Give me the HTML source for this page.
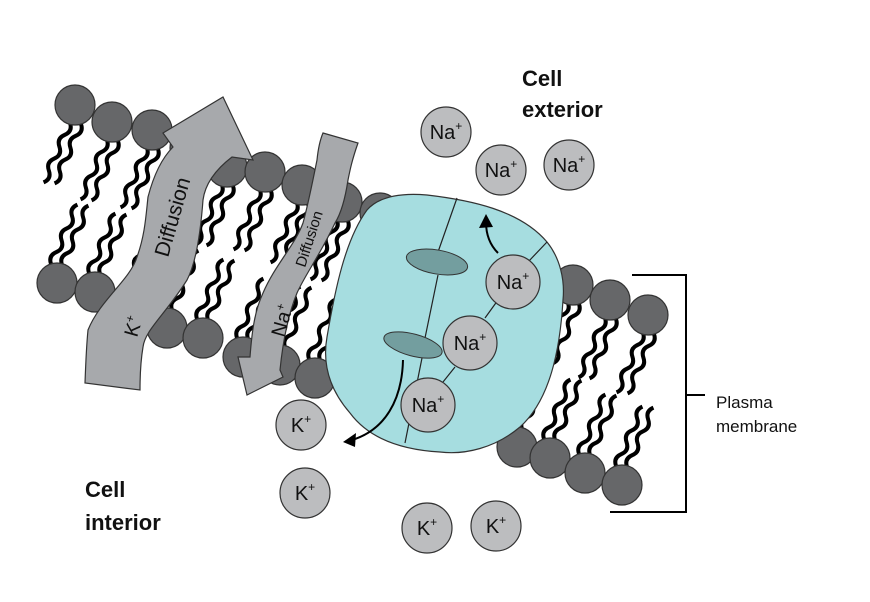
<!DOCTYPE html>
<html><head><style>body{margin:0;background:#fff}svg{display:block}text{font-family:"Liberation Sans",sans-serif}</style></head><body>
<svg width="870" height="602" viewBox="0 0 870 602" xmlns="http://www.w3.org/2000/svg">
<defs>
<path id="w" d="M0,0 q6,6.5 0,13 t0,13 t0,13 t0,13 t0,13" fill="none" stroke="#000" stroke-width="4"/>
<g id="td"><use href="#w" transform="translate(-5,18) rotate(24)"/><use href="#w" transform="translate(6,19) rotate(24)"/></g>
<g id="tu"><use href="#w" transform="translate(-6,-19) rotate(204)"/><use href="#w" transform="translate(5,-18) rotate(204)"/></g>
</defs>
<g>
<use href="#td" x="75" y="105"/><use href="#td" x="112" y="122"/><use href="#td" x="152" y="130"/><use href="#td" x="190" y="148"/><use href="#td" x="227" y="167"/><use href="#td" x="265" y="172"/><use href="#td" x="302" y="185"/><use href="#td" x="342" y="202"/><use href="#td" x="380" y="213"/>
<use href="#tu" x="57" y="283"/><use href="#tu" x="95" y="292"/><use href="#tu" x="130" y="310"/><use href="#tu" x="167" y="328"/><use href="#tu" x="203" y="338"/><use href="#tu" x="243" y="357"/><use href="#tu" x="280" y="365"/><use href="#tu" x="315" y="378"/>
<use href="#td" x="573" y="285"/><use href="#td" x="610" y="300"/><use href="#td" x="648" y="315"/>
<use href="#tu" x="517" y="447"/><use href="#tu" x="550" y="458"/><use href="#tu" x="585" y="473"/><use href="#tu" x="622" y="485"/>
</g>
<g fill="#666769" stroke="#333" stroke-width="1.2">
<circle cx="75" cy="105" r="20"/><circle cx="112" cy="122" r="20"/><circle cx="152" cy="130" r="20"/><circle cx="190" cy="148" r="20"/><circle cx="227" cy="167" r="20"/><circle cx="265" cy="172" r="20"/><circle cx="302" cy="185" r="20"/><circle cx="342" cy="202" r="20"/><circle cx="380" cy="213" r="20"/>
<circle cx="57" cy="283" r="20"/><circle cx="95" cy="292" r="20"/><circle cx="130" cy="310" r="20"/><circle cx="167" cy="328" r="20"/><circle cx="203" cy="338" r="20"/><circle cx="243" cy="357" r="20"/><circle cx="280" cy="365" r="20"/><circle cx="315" cy="378" r="20"/>
<circle cx="573" cy="285" r="20"/><circle cx="610" cy="300" r="20"/><circle cx="648" cy="315" r="20"/>
<circle cx="517" cy="447" r="20"/><circle cx="550" cy="458" r="20"/><circle cx="585" cy="473" r="20"/><circle cx="622" cy="485" r="20"/>
</g>
<path d="M427,195 C470,200 520,210 547,242 C560,258 565,280 563,300 C560,350 550,400 520,427 C495,448 465,455 440,452 C405,450 370,440 350,413 C330,390 322,365 327,337 C335,290 345,240 367,210 C380,195 405,193 427,195 Z" fill="#a6dde0" stroke="#333" stroke-width="1.2"/>
<g stroke="#222" stroke-width="1.2" fill="none">
<path d="M457,198 L438,252"/><path d="M438,275 L425,338"/><path d="M422,358 L405,443"/>
<path d="M547,242 L528,262"/><path d="M498,300 L485,318"/><path d="M455,367 L443,382"/>
</g>
<ellipse cx="437" cy="262" rx="31" ry="12" transform="rotate(10 437 262)" fill="#739e9f" stroke="#333" stroke-width="1"/>
<ellipse cx="413" cy="345" rx="30" ry="11" transform="rotate(15 413 345)" fill="#739e9f" stroke="#333" stroke-width="1"/>
<g fill="none" stroke="#000" stroke-width="2">
<path d="M498,253 C490,245 486,235 486,222"/>
<path d="M403,360 C402,400 385,430 352,440"/>
</g>
<path d="M486,214 L479,228 L493,227 Z" fill="#000"/>
<path d="M343,442 L356,433 L355,447 Z" fill="#000"/>
<g fill="#bcbdbf" stroke="#333" stroke-width="1.2">
<circle cx="446" cy="132" r="25"/><circle cx="501" cy="170" r="25"/><circle cx="569" cy="165" r="25"/>
<circle cx="513" cy="282" r="27"/><circle cx="470" cy="343" r="27"/><circle cx="428" cy="405" r="27"/>
<circle cx="301" cy="425" r="25"/><circle cx="305" cy="493" r="25"/><circle cx="427" cy="528" r="25"/><circle cx="496" cy="526" r="25"/>
</g>
<g font-size="20" text-anchor="middle" fill="#111">
<text x="446" y="139">Na<tspan font-size="12" dy="-9">+</tspan></text>
<text x="501" y="177">Na<tspan font-size="12" dy="-9">+</tspan></text>
<text x="569" y="172">Na<tspan font-size="12" dy="-9">+</tspan></text>
<text x="513" y="289">Na<tspan font-size="12" dy="-9">+</tspan></text>
<text x="470" y="350">Na<tspan font-size="12" dy="-9">+</tspan></text>
<text x="428" y="412">Na<tspan font-size="12" dy="-9">+</tspan></text>
<text x="301" y="432">K<tspan font-size="12" dy="-9">+</tspan></text>
<text x="305" y="500">K<tspan font-size="12" dy="-9">+</tspan></text>
<text x="427" y="535">K<tspan font-size="12" dy="-9">+</tspan></text>
<text x="496" y="533">K<tspan font-size="12" dy="-9">+</tspan></text>
</g>
<path d="M85,383 C86,355 87,340 88,330 C100,300 130,280 137,257 C145,235 146,215 148,197 C155,170 165,155 173,147 L163,133 L223,97 L253,160 L232,157 C215,170 205,185 203,200 C200,240 195,265 187,280 C165,315 145,330 143,347 C140,365 140,380 140,390 Z" fill="#a7a9ac" stroke="#333" stroke-width="1.2"/>
<path d="M323,133 L358,143 C352,160 350,170 348,180 C345,200 340,215 335,223 C320,255 305,275 297,293 C288,315 283,340 280,370 L283,377 L247,395 L238,357 L250,357 C252,330 255,310 263,293 C275,265 295,245 303,223 C308,205 312,185 317,160 C318,150 320,140 323,133 Z" fill="#a7a9ac" stroke="#333" stroke-width="1.2"/>
<g fill="#111">
<text font-size="21" transform="translate(168,258) rotate(-74)">Diffusion</text>
<text font-size="20" transform="translate(137,338) rotate(-74)">K<tspan font-size="12" dy="-8">+</tspan></text>
<text font-size="15" transform="translate(305,268) rotate(-72)">Diffusion</text>
<text font-size="20" transform="translate(284,338) rotate(-74)">Na<tspan font-size="12" dy="-8">+</tspan></text>
</g>
<path d="M632,275 L686,275 L686,512 L610,512 M686,395 L705,395" fill="none" stroke="#000" stroke-width="2"/>
<g fill="#111">
<text x="716" y="408" font-size="17">Plasma</text>
<text x="716" y="432" font-size="17">membrane</text>
<text x="522" y="86" font-size="22" font-weight="bold">Cell</text>
<text x="522" y="117" font-size="22" font-weight="bold">exterior</text>
<text x="85" y="497" font-size="22" font-weight="bold">Cell</text>
<text x="85" y="530" font-size="22" font-weight="bold">interior</text>
</g>
</svg>
</body></html>
